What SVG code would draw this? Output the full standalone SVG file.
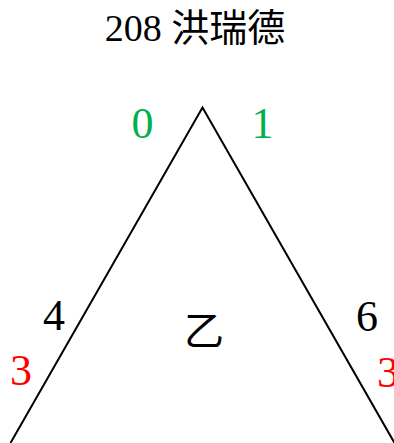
<svg xmlns="http://www.w3.org/2000/svg" width="394" height="443" viewBox="0 0 394 443">
<style>
text{font-family:'Liberation Serif','Times New Roman','Noto Sans CJK TC',serif;text-anchor:middle}
.n{font-size:44px}
.g{fill:#00b050}
.r{fill:#ff0000}
.k{fill:#000000}
</style>
<rect width="394" height="443" fill="#ffffff"/>
<text class="k" x="195" y="41" font-size="38">208 洪瑞德</text>
<g id="connectors">
<path d="M10.5,443 L202.5,107.5 L394.5,443" fill="none" stroke="#000" stroke-width="2"/>
</g>
<g id="node-triangle">
<text class="k" x="204" y="345" font-size="40">乙</text>
<text class="n g" x="142.5" y="138">0</text>
<text class="n g" x="262.5" y="138">1</text>
<text class="n k" x="54" y="330">4</text>
<text class="n r" x="21" y="385">3</text>
<text class="n k" x="367" y="331">6</text>
<text class="n r" x="388" y="387">3</text>
</g>
</svg>
